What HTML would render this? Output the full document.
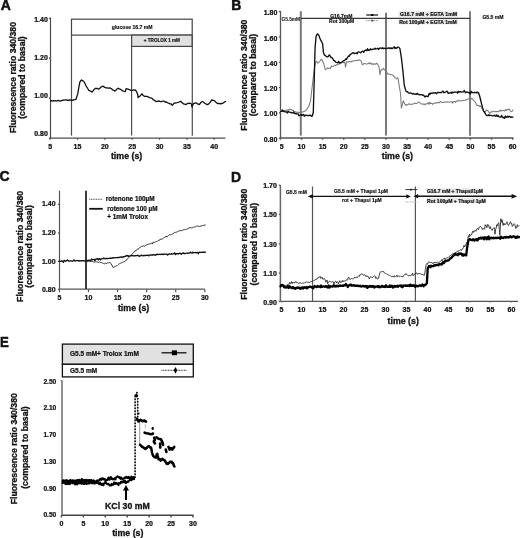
<!DOCTYPE html>
<html><head><meta charset="utf-8"><style>
html,body{margin:0;padding:0;background:#fff;width:520px;height:538px;overflow:hidden}
svg{display:block;font-family:"Liberation Sans",sans-serif;will-change:transform}
</style></head><body>
<svg width="520" height="538" viewBox="0 0 520 538">
<rect width="520" height="538" fill="#fff"/>
<text transform="translate(0.66,10.2) scale(0.93,1)" font-size="15" font-weight="bold" fill="#111" stroke="#111" stroke-width="0.51">A</text>
<text transform="translate(16.1,77.5) rotate(-90)" font-size="8.7" text-anchor="middle" font-weight="bold" fill="#111" stroke="#111" stroke-width="0.3">Fluorescence ratio 340/380</text>
<text transform="translate(25.3,77.5) rotate(-90)" font-size="8.7" text-anchor="middle" font-weight="bold" fill="#111" stroke="#111" stroke-width="0.3">(compared to basal)</text>
<line x1="50.5" y1="17.6" x2="50.5" y2="138.1" stroke="#4d4d4d" stroke-width="1.2" />
<line x1="48.9" y1="18.3" x2="50.5" y2="18.3" stroke="#4d4d4d" stroke-width="1.2" />
<line x1="48.9" y1="58.2" x2="50.5" y2="58.2" stroke="#4d4d4d" stroke-width="1.2" />
<line x1="48.9" y1="98.3" x2="50.5" y2="98.3" stroke="#4d4d4d" stroke-width="1.2" />
<line x1="48.9" y1="138.1" x2="50.5" y2="138.1" stroke="#4d4d4d" stroke-width="1.2" />
<text x="47.8" y="21.6" font-size="7.0" text-anchor="end" font-weight="bold" fill="#111" stroke="#111" stroke-width="0.24" >1.40</text>
<text x="47.8" y="59.8" font-size="7.0" text-anchor="end" font-weight="bold" fill="#111" stroke="#111" stroke-width="0.24" >1.20</text>
<text x="47.8" y="97.9" font-size="7.0" text-anchor="end" font-weight="bold" fill="#111" stroke="#111" stroke-width="0.24" >1.00</text>
<text x="47.8" y="136" font-size="7.0" text-anchor="end" font-weight="bold" fill="#111" stroke="#111" stroke-width="0.24" >0.80</text>
<line x1="50.5" y1="138.1" x2="225.4" y2="138.1" stroke="#4d4d4d" stroke-width="1.2" />
<line x1="50.2" y1="138.1" x2="50.2" y2="139.7" stroke="#4d4d4d" stroke-width="1.2" />
<line x1="77.5" y1="138.1" x2="77.5" y2="139.7" stroke="#4d4d4d" stroke-width="1.2" />
<line x1="104.85" y1="138.1" x2="104.85" y2="139.7" stroke="#4d4d4d" stroke-width="1.2" />
<line x1="132.2" y1="138.1" x2="132.2" y2="139.7" stroke="#4d4d4d" stroke-width="1.2" />
<line x1="159.55" y1="138.1" x2="159.55" y2="139.7" stroke="#4d4d4d" stroke-width="1.2" />
<line x1="186.9" y1="138.1" x2="186.9" y2="139.7" stroke="#4d4d4d" stroke-width="1.2" />
<line x1="214.25" y1="138.1" x2="214.25" y2="139.7" stroke="#4d4d4d" stroke-width="1.2" />
<text x="50.2" y="149" font-size="7.0" text-anchor="middle" font-weight="bold" fill="#111" stroke="#111" stroke-width="0.24" >5</text>
<text x="77.5" y="149" font-size="7.0" text-anchor="middle" font-weight="bold" fill="#111" stroke="#111" stroke-width="0.24" >15</text>
<text x="104.85" y="149" font-size="7.0" text-anchor="middle" font-weight="bold" fill="#111" stroke="#111" stroke-width="0.24" >20</text>
<text x="132.2" y="149" font-size="7.0" text-anchor="middle" font-weight="bold" fill="#111" stroke="#111" stroke-width="0.24" >25</text>
<text x="159.55" y="149" font-size="7.0" text-anchor="middle" font-weight="bold" fill="#111" stroke="#111" stroke-width="0.24" >30</text>
<text x="186.9" y="149" font-size="7.0" text-anchor="middle" font-weight="bold" fill="#111" stroke="#111" stroke-width="0.24" >35</text>
<text x="214.25" y="149" font-size="7.0" text-anchor="middle" font-weight="bold" fill="#111" stroke="#111" stroke-width="0.24" >40</text>
<rect x="71.5" y="19.2" width="120.7" height="15.9" fill="#fff" stroke="#444" stroke-width="1.2"/>
<rect x="131.6" y="35.1" width="60.6" height="11.3" fill="#e1e1e1" stroke="#444" stroke-width="1.2"/>
<line x1="71.5" y1="35.1" x2="71.5" y2="135.6" stroke="#4d4d4d" stroke-width="1.2" />
<line x1="192.3" y1="35.1" x2="192.3" y2="135.8" stroke="#4d4d4d" stroke-width="1.2" />
<line x1="131.6" y1="46.4" x2="131.6" y2="135.6" stroke="#4d4d4d" stroke-width="1.2" />
<text x="132.2" y="28.8" font-size="5.1" text-anchor="middle" font-weight="bold" fill="#111" stroke="#111" stroke-width="0.17" >glucose 16.7 mM</text>
<text x="161.9" y="42.2" font-size="4.6" text-anchor="middle" font-weight="bold" fill="#111" stroke="#111" stroke-width="0.16" >+ TROLOX 1 mM</text>
<polyline points="50.5,100.8 51.33,100.54 52.15,101.04 52.98,100.98 53.8,100.63 54.62,100.8 55.45,100.76 56.27,100.91 57.1,101 57.92,100.52 58.75,100.47 59.57,101.04 60.4,100.8 61.27,100.6 62.13,100.68 63,100 63.87,100.16 64.73,100.21 65.6,99.9 66.52,99.79 67.43,100.38 68.35,100.43 69.27,99.9 70.18,99.98 71.1,100.4 71.92,100.26 72.73,100.37 73.55,99.82 74.37,99.53 75.18,99.51 76,99.4 76.85,96.47 77.7,94.2 78.75,87.96 79.8,82.1 80.65,81.01 81.5,80 82.6,80.6 83.7,81.2 84.57,82.75 85.43,84.48 86.3,86.4 87.17,87.54 88.03,89.04 88.9,90.4 89.9,90.82 90.9,91.2 91.9,92.1 93,90.99 94.1,89.4 94.95,88.84 95.8,88.2 96.67,88.57 97.53,88.51 98.4,89 99.28,88.76 100.16,88.09 101.04,86.99 101.92,86.56 102.8,86.1 103.65,86.68 104.5,87.1 105.35,87.68 106.2,87.8 107.08,87.83 107.96,88.19 108.84,88.16 109.72,87.98 110.6,88.2 111.46,88.84 112.32,89.63 113.18,90.18 114.04,90.52 114.9,91.1 115.75,90.44 116.6,89.32 117.45,88.74 118.3,88.2 119.18,88.93 120.06,89.18 120.94,89.53 121.82,90.31 122.7,90.8 123.57,91.21 124.43,91.46 125.3,91.6 126.1,88.7 126.97,88.85 127.83,89.12 128.7,89.4 129.57,89.74 130.43,90.26 131.3,90.4 132.18,90.29 133.05,90.08 133.93,90.02 134.8,89.9 135.65,90.42 136.5,91.6 137.7,94.4 138.1,97.7 138.93,96.61 139.77,96.31 140.6,95.4 141.9,93.8 143.5,95.8 144.3,96.32 145.1,96.23 145.9,96.28 146.7,96.3 147.5,96.72 148.3,96.9 149.25,97.59 150.2,97.79 151.15,97.98 152.1,98.3 153.05,99.5 154,100.2 155,100.66 156,101.5 156.93,101.28 157.87,101.35 158.8,100.8 159.8,101.3 160.8,101.7 161.77,101.5 162.73,101.21 163.7,101.2 164.65,101.61 165.6,102.27 166.55,101.98 167.5,102.7 168.45,103.22 169.4,103.57 170.35,103.95 171.3,104 172.3,105.4 173.25,104.37 174.2,103 175.17,103.12 176.13,102.81 177.1,102.7 178.07,102.44 179.05,102.05 180.03,101.49 181,101.5 181.93,102.59 182.87,103.22 183.8,104 184.8,104.09 185.8,104.6 186.75,104.05 187.7,103.5 188.65,103.29 189.6,103.1 190.55,103.45 191.5,104 191.9,106.9 193.5,103.5 194.43,103.23 195.37,103.19 196.3,103 197.27,103.62 198.23,104.15 199.2,104.6 200.17,103.54 201.13,102.2 202.1,101.5 203.07,101.98 204.03,102.61 205,103.5 205.97,103.93 206.93,104.49 207.9,104.6 208.85,103.86 209.8,102.7 210.75,101.46 211.7,99.8 212.67,100.35 213.63,100.3 214.6,100.8 215.57,101.94 216.53,102.72 217.5,103.5 218.47,103.37 219.43,103.5 220.4,104 221.37,103.33 222.33,103.51 223.3,103 224.45,102.07 225.6,101.5" fill="none" stroke="#111" stroke-width="1.3" stroke-linejoin="round" stroke-linecap="round" />
<text transform="translate(231.3,10.3) scale(0.93,1)" font-size="15" font-weight="bold" fill="#111" stroke="#111" stroke-width="0.51">B</text>
<text transform="translate(247.3,75.1) rotate(-90)" font-size="8.7" text-anchor="middle" font-weight="bold" fill="#111" stroke="#111" stroke-width="0.3">Fluorescence ratio 340/380</text>
<text transform="translate(256.3,75) rotate(-90)" font-size="8.7" text-anchor="middle" font-weight="bold" fill="#111" stroke="#111" stroke-width="0.3">(compared to basal)</text>
<line x1="280.5" y1="11" x2="280.5" y2="138.2" stroke="#555" stroke-width="1.3" />
<line x1="278.9" y1="11.55" x2="280.5" y2="11.55" stroke="#555" stroke-width="1.3" />
<line x1="278.9" y1="36.88" x2="280.5" y2="36.88" stroke="#555" stroke-width="1.3" />
<line x1="278.9" y1="62.21" x2="280.5" y2="62.21" stroke="#555" stroke-width="1.3" />
<line x1="278.9" y1="87.54" x2="280.5" y2="87.54" stroke="#555" stroke-width="1.3" />
<line x1="278.9" y1="112.87" x2="280.5" y2="112.87" stroke="#555" stroke-width="1.3" />
<line x1="278.9" y1="138.2" x2="280.5" y2="138.2" stroke="#555" stroke-width="1.3" />
<text x="277.3" y="15.05" font-size="7.0" text-anchor="end" font-weight="bold" fill="#111" stroke="#111" stroke-width="0.24" >1.80</text>
<text x="277.3" y="40.95" font-size="7.0" text-anchor="end" font-weight="bold" fill="#111" stroke="#111" stroke-width="0.24" >1.60</text>
<text x="277.3" y="66.05" font-size="7.0" text-anchor="end" font-weight="bold" fill="#111" stroke="#111" stroke-width="0.24" >1.40</text>
<text x="277.3" y="91.15" font-size="7.0" text-anchor="end" font-weight="bold" fill="#111" stroke="#111" stroke-width="0.24" >1.20</text>
<text x="277.3" y="116.45" font-size="7.0" text-anchor="end" font-weight="bold" fill="#111" stroke="#111" stroke-width="0.24" >1.00</text>
<text x="277.3" y="141.55" font-size="7.0" text-anchor="end" font-weight="bold" fill="#111" stroke="#111" stroke-width="0.24" >0.80</text>
<line x1="280.5" y1="138.1" x2="513.5" y2="138.1" stroke="#555" stroke-width="1.5" />
<line x1="280.5" y1="138.1" x2="280.5" y2="139.7" stroke="#555" stroke-width="1.5" />
<line x1="301.51" y1="138.1" x2="301.51" y2="139.7" stroke="#555" stroke-width="1.5" />
<line x1="322.62" y1="138.1" x2="322.62" y2="139.7" stroke="#555" stroke-width="1.5" />
<line x1="343.73" y1="138.1" x2="343.73" y2="139.7" stroke="#555" stroke-width="1.5" />
<line x1="364.84" y1="138.1" x2="364.84" y2="139.7" stroke="#555" stroke-width="1.5" />
<line x1="385.95" y1="138.1" x2="385.95" y2="139.7" stroke="#555" stroke-width="1.5" />
<line x1="407.06" y1="138.1" x2="407.06" y2="139.7" stroke="#555" stroke-width="1.5" />
<line x1="428.17" y1="138.1" x2="428.17" y2="139.7" stroke="#555" stroke-width="1.5" />
<line x1="449.28" y1="138.1" x2="449.28" y2="139.7" stroke="#555" stroke-width="1.5" />
<line x1="470.39" y1="138.1" x2="470.39" y2="139.7" stroke="#555" stroke-width="1.5" />
<line x1="491.5" y1="138.1" x2="491.5" y2="139.7" stroke="#555" stroke-width="1.5" />
<line x1="512.61" y1="138.1" x2="512.61" y2="139.7" stroke="#555" stroke-width="1.5" />
<text x="281.8" y="148.9" font-size="7.0" text-anchor="middle" font-weight="bold" fill="#111" stroke="#111" stroke-width="0.24" >5</text>
<text x="301.51" y="148.9" font-size="7.0" text-anchor="middle" font-weight="bold" fill="#111" stroke="#111" stroke-width="0.24" >10</text>
<text x="322.62" y="148.9" font-size="7.0" text-anchor="middle" font-weight="bold" fill="#111" stroke="#111" stroke-width="0.24" >15</text>
<text x="343.73" y="148.9" font-size="7.0" text-anchor="middle" font-weight="bold" fill="#111" stroke="#111" stroke-width="0.24" >20</text>
<text x="364.84" y="148.9" font-size="7.0" text-anchor="middle" font-weight="bold" fill="#111" stroke="#111" stroke-width="0.24" >25</text>
<text x="385.95" y="148.9" font-size="7.0" text-anchor="middle" font-weight="bold" fill="#111" stroke="#111" stroke-width="0.24" >30</text>
<text x="407.06" y="148.9" font-size="7.0" text-anchor="middle" font-weight="bold" fill="#111" stroke="#111" stroke-width="0.24" >35</text>
<text x="428.17" y="148.9" font-size="7.0" text-anchor="middle" font-weight="bold" fill="#111" stroke="#111" stroke-width="0.24" >40</text>
<text x="449.28" y="148.9" font-size="7.0" text-anchor="middle" font-weight="bold" fill="#111" stroke="#111" stroke-width="0.24" >45</text>
<text x="470.39" y="148.9" font-size="7.0" text-anchor="middle" font-weight="bold" fill="#111" stroke="#111" stroke-width="0.24" >50</text>
<text x="491.5" y="148.9" font-size="7.0" text-anchor="middle" font-weight="bold" fill="#111" stroke="#111" stroke-width="0.24" >55</text>
<text x="512.61" y="148.9" font-size="7.0" text-anchor="middle" font-weight="bold" fill="#111" stroke="#111" stroke-width="0.24" >60</text>
<line x1="300.8" y1="11.2" x2="300.8" y2="135.6" stroke="#777" stroke-width="2.0" />
<line x1="386" y1="12.8" x2="386" y2="135.6" stroke="#7a7a7a" stroke-width="2.0" />
<line x1="470" y1="11.2" x2="470" y2="135.8" stroke="#7d7d7d" stroke-width="2.0" />
<line x1="300.8" y1="18.4" x2="470" y2="18.4" stroke="#3a3a3a" stroke-width="1.3" />
<text x="290.8" y="21.1" font-size="4.8" text-anchor="middle" font-weight="bold" fill="#111" stroke="#111" stroke-width="0.05" >G5.5mM</text>
<text x="341.3" y="17.6" font-size="5.0" text-anchor="middle" font-weight="bold" fill="#111" stroke="#111" stroke-width="0.17" >G16.7mM</text>
<text x="341.6" y="23.3" font-size="5.0" text-anchor="middle" font-weight="bold" fill="#111" stroke="#111" stroke-width="0.17" >Rot 100µM</text>
<line x1="366.2" y1="15" x2="378.1" y2="15" stroke="#111" stroke-width="1.2" />
<rect x="371" y="14" width="2.4" height="2" fill="#111"/>
<line x1="366.2" y1="20.6" x2="378.1" y2="20.6" stroke="#888" stroke-width="1.0" stroke-dasharray="1,0.6"/>
<rect x="371" y="19.8" width="2.4" height="1.6" fill="#555"/>
<rect x="398.5" y="11.4" width="59.5" height="5.4" fill="#e6e6e6"/>
<rect x="398.5" y="19.2" width="59.5" height="5.2" fill="#e6e6e6"/>
<text x="428.5" y="15.6" font-size="5.15" text-anchor="middle" font-weight="bold" fill="#111" stroke="#111" stroke-width="0.18" >G16.7 mM + EGTA 1mM</text>
<text x="427.9" y="23.5" font-size="5.05" text-anchor="middle" font-weight="bold" fill="#111" stroke="#111" stroke-width="0.17" >Rot 100µM + EGTA 1mM</text>
<text x="493" y="18.9" font-size="5.1" text-anchor="middle" font-weight="bold" fill="#111" stroke="#111" stroke-width="0.17" >G5.5 mM</text>
<polyline points="280.8,110.8 281.53,111.03 282.26,109.26 282.99,110.64 283.71,110.5 284.44,111.38 285.17,110.46 285.9,110.16 286.63,110.36 287.36,110.25 288.09,109.78 288.81,110.06 289.54,109.21 290.27,109.26 291,109.5 291.7,109.6 292.4,110.55 293.1,110.33 293.8,111.11 294.5,111.53 295.2,111.8 295.9,112.29 296.6,112.3 297.37,112.06 298.13,112.45 298.9,112.32 299.67,112.6 300.43,112.53 301.2,112.3 301.97,112.32 302.73,111.77 303.5,111.84 304.27,111.29 305.03,110.93 305.8,110.8 306.5,109.54 307.2,108.59 307.9,107.59 308.6,106.7 309.55,104.04 310.5,101.1 311.8,90 312.55,83.51 313.3,77 314.05,71.46 314.8,65.8 316.1,61.2 317,61.95 317.9,63.1 318.85,62.45 319.8,61.2 320.7,59.95 321.6,59.3 322.55,61.36 323.5,63.1 324.4,66.13 325.3,69.6 326,69.04 326.7,68.94 327.4,68 328.1,68.6 328.9,68.08 329.7,68.18 330.5,68.54 331.3,65.88 332.1,66.55 332.9,66.21 333.7,66.2 334.4,65.23 335.1,65.3 335.8,65.58 336.5,64.66 337.2,64.82 337.9,64.59 338.6,63.96 339.3,64 340.07,63.65 340.84,63.19 341.61,62.86 342.39,62.18 343.16,62.77 343.93,62.17 344.7,62 345.6,67.2 346.4,62 347.12,61.79 347.85,62.13 348.57,61.84 349.3,61.6 350.1,61.59 350.9,62.07 351.7,61.22 352.5,61.39 353.3,60.77 354.1,60.65 354.9,60.7 355.64,60.67 356.38,60.61 357.12,60.29 357.86,60.57 358.6,60.1 359.53,59.85 360.47,60.68 361.4,61.3 362.3,65 363.25,64.05 364.2,63.5 364.9,63.53 365.6,63.7 366.3,63.93 367,63.86 367.7,63.76 368.4,63.49 369.1,62.87 369.8,63.9 370.54,62.88 371.28,63.67 372.02,64.35 372.76,63.6 373.5,64.46 374.24,63.76 374.98,63.89 375.72,64.39 376.46,63.24 377.2,63.5 378.15,65.13 379.1,67.2 380,74.7 380.9,70 381.68,69.77 382.47,69.88 383.25,68.32 384.03,69.28 384.82,70.11 385.6,69.1 386.5,71.56 387.4,73.7 388.18,73.77 388.97,74.24 389.75,74.22 390.53,74.68 391.32,74.84 392.1,74.7 392.84,75.22 393.58,76.01 394.32,76.63 395.06,77.63 395.8,78 396.53,78.93 397.27,78.03 398,78 399.2,85.8 400.5,93.3 401.4,108.1 402.35,104.68 403.3,100.7 404.2,102.84 405.1,104.4 405.9,105.45 406.7,104.55 407.5,104.95 408.3,104.43 409.1,103.55 409.9,104.23 410.7,104.4 411.4,104.26 412.1,104.11 412.8,104.26 413.5,103.7 414.2,103.51 414.9,103.1 415.6,103.55 416.3,103.5 417.2,103.27 418.1,102.41 419,101.9 419.7,102.45 420.4,103.34 421.1,103.9 421.82,104.1 422.54,103.9 423.26,103.89 423.99,104.74 424.71,103.97 425.43,104.58 426.15,103.76 426.87,103.84 427.59,103.23 428.31,102.76 429.04,104.4 429.76,102.21 430.48,103.52 431.2,103.3 431.92,103.51 432.64,104.43 433.36,103.38 434.09,103.28 434.81,103.28 435.53,102.76 436.25,103.11 436.97,102.56 437.69,102.89 438.41,102.27 439.14,102.86 439.86,102.2 440.58,101.43 441.3,102.3 442.01,102.19 442.73,102.5 443.44,102.32 444.16,102.21 444.87,101.86 445.59,101.99 446.3,102.31 447.01,102 447.73,101.76 448.44,101.94 449.16,102.23 449.87,102.05 450.59,101.74 451.3,101.9 452.02,101.63 452.74,103.16 453.46,101.44 454.19,101.44 454.91,101.47 455.63,102.55 456.35,101.1 457.07,100.98 457.79,101.11 458.51,100.21 459.24,100.77 459.96,100.96 460.68,101.01 461.4,100.7 462.16,100.79 462.92,100.35 463.69,100.49 464.45,100.18 465.21,100.13 465.98,99.99 466.74,99.56 467.5,99.3 468.3,99.01 469.1,98.67 469.9,98.6 470.7,99.45 471.5,98.3 472.2,98.64 472.9,99.53 473.6,100.3 474.6,101.57 475.6,102.3 476.6,105.3 477.4,105.38 478.2,105.36 479,105.58 479.8,106.6 480.6,105.9 481.6,107.65 482.6,109.4 483.65,111.1 484.7,112.4 485.45,111.65 486.2,110.08 486.95,110.58 487.7,110.4 488.7,112 489.7,113.4 490.45,112.3 491.2,111.79 491.95,112.09 492.7,111.4 493.43,111.33 494.16,111.32 494.89,111.48 495.61,111.64 496.34,111.46 497.07,111.74 497.8,111.4 498.56,111.51 499.32,111.09 500.09,110.04 500.85,111.19 501.61,110.55 502.38,110.62 503.14,110.35 503.9,110.4 504.7,111.01 505.5,109.71 506.3,110.65 507.1,109.59 507.9,109.4 508.65,109.65 509.4,109 510.15,110.92 510.9,111.4 511.9,111.56 512.9,110" fill="none" stroke="#7a7a7a" stroke-width="1.05" stroke-linejoin="round" stroke-linecap="round" />
<polyline points="280.8,111.3 281.57,111.24 282.33,111.42 283.1,110.43 283.87,111.68 284.63,111.62 285.4,111.9 286.1,111.97 286.8,111.94 287.5,113.02 288.2,111.36 288.9,111.87 289.6,112.18 290.3,112.48 291,112.3 291.7,112.73 292.4,112.83 293.1,113.09 293.8,111.94 294.5,113.28 295.2,113.56 295.9,113.73 296.6,113.7 297.37,113.85 298.13,113.81 298.9,115.64 299.67,115.61 300.43,114.61 301.2,114.5 301.97,115.65 302.73,114.6 303.5,114.43 304.27,116.24 305.03,115.14 305.8,115.6 306.56,115.25 307.32,115.34 308.08,115.65 308.84,115.58 309.6,115.2 310.5,115.21 311.4,116.29 312.3,116 313.3,112.3 314.2,80.7 315.1,47.3 316.1,36.1 317.4,33.9 318.1,34.41 318.8,35.2 319.8,38 320.7,40.14 321.6,41.7 322.6,43.6 323.5,52.8 324.4,55.01 325.3,55.6 326.25,56.47 327.2,56.9 327.9,56.8 328.6,56.01 329.3,54.85 330,55.6 330.9,57.52 331.8,57.5 332.75,58.61 333.7,60.3 334.65,60.56 335.6,62.1 336.34,62.38 337.08,62.61 337.82,62.82 338.56,61.34 339.3,63.1 340.2,62.62 341.1,62.49 342,62.1 342.85,61.32 343.7,60.7 344.4,60.3 345.1,59.93 345.8,59.04 346.5,59.4 347.45,57.53 348.4,56 349.1,56.37 349.8,54.66 350.5,54.62 351.2,53.8 351.94,53.53 352.68,52.65 353.42,52.8 354.16,53.67 354.9,53.3 355.64,53.24 356.38,53 357.12,53.75 357.86,52.21 358.6,52 359.34,52.09 360.08,52.51 360.82,52.85 361.56,51.75 362.3,51.4 363.04,51.1 363.78,52.33 364.52,50.72 365.26,50.23 366,50.1 366.76,50.66 367.52,48.71 368.28,50.34 369.04,49.81 369.8,50.1 370.54,48.73 371.28,49.69 372.02,49.63 372.76,49.23 373.5,49.2 374.24,49.07 374.98,48.11 375.72,49.02 376.46,48.9 377.2,48.6 377.94,48.22 378.68,49.47 379.42,48.43 380.16,48.01 380.9,48.2 381.68,48.46 382.47,47.8 383.25,48.68 384.03,48.22 384.82,48.42 385.6,48.6 386.37,48.41 387.13,48.45 387.9,48.11 388.67,47.97 389.43,48.23 390.2,48 390.9,48.66 391.6,48.02 392.3,48.65 393,47.93 393.7,47.7 394.4,46.73 395.1,48.65 395.8,47.7 396.5,48.22 397.2,47.64 397.9,47.11 398.6,47.1 399.9,48.6 400.65,53.02 401.4,57.9 402.15,64.5 402.9,70.9 404.2,84.8 405.1,88.23 406,91.3 406.76,91.8 407.52,91.78 408.28,92.76 409.04,93.26 409.8,93.1 410.57,92.98 411.33,93.21 412.1,93.7 412.87,94.04 413.63,93.39 414.4,94.1 415.14,94.3 415.89,93.95 416.63,94.31 417.38,93.22 418.12,94.5 418.87,94.29 419.61,94.75 420.36,94.82 421.1,94.6 421.81,94.64 422.53,95.21 423.24,95.15 423.96,95.45 424.67,96.94 425.39,96.84 426.1,96 427.1,96.31 428.1,96.6 429.1,93.4 429.86,94.57 430.62,92.99 431.39,93.36 432.15,93.02 432.91,93 433.68,92.86 434.44,92.99 435.2,92.6 435.92,93.24 436.64,93.74 437.36,92.3 438.09,92.47 438.81,92.44 439.53,92.62 440.25,92.39 440.97,92.59 441.69,92.48 442.41,91.22 443.14,91.25 443.86,92.84 444.58,92.3 445.3,92.2 446.02,91.92 446.74,91.08 447.46,91.52 448.19,93.48 448.91,93.17 449.63,93.03 450.35,92.93 451.07,92.16 451.79,93.31 452.51,92.12 453.24,92.3 453.96,92.47 454.68,91.96 455.4,92.2 456.14,92.07 456.87,92.14 457.61,93.19 458.35,91.33 459.08,92.25 459.82,91.76 460.55,91.73 461.29,92.04 462.03,91.91 462.76,91.81 463.5,91.8 464.25,90.57 465,92.03 465.75,92.7 466.5,91.98 467.25,92.16 468,92.41 468.75,92.77 469.5,92.6 470.26,93.99 471.02,91.27 471.79,92.64 472.55,92.37 473.31,92.64 474.08,92.53 474.84,92.38 475.6,92.6 476.35,92.92 477.1,92.05 477.85,92.75 478.6,93 479.6,96 480.6,99.77 481.6,104.1 482.65,107.88 483.7,111.2 484.45,112.23 485.2,113.45 485.95,114.79 486.7,115.6 487.41,115.48 488.13,115.59 488.84,114.77 489.56,115.61 490.27,115.42 490.99,115.32 491.7,115.6 492.52,115.81 493.34,115.88 494.16,115.14 494.98,115.81 495.8,116.2 496.54,114.88 497.27,116.28 498.01,115.47 498.75,116.71 499.48,116.84 500.22,116.96 500.95,116.99 501.69,115.49 502.43,117.14 503.16,117.88 503.9,117.2 504.65,118.34 505.4,116.02 506.15,117.12 506.9,117.22 507.65,116.22 508.4,117.12 509.15,116.46 509.9,116.4 510.65,117.27 511.4,117.01 512.15,117.14 512.9,117.2" fill="none" stroke="#111" stroke-width="1.35" stroke-linejoin="round" stroke-linecap="round" />
<text transform="translate(-0.5,181.35) scale(0.93,1)" font-size="15" font-weight="bold" fill="#111" stroke="#111" stroke-width="0.51">C</text>
<text transform="translate(22.5,246.4) rotate(-90)" font-size="8.7" text-anchor="middle" font-weight="bold" fill="#111" stroke="#111" stroke-width="0.3">Fluorescence ratio 340/380</text>
<text transform="translate(32.1,246.4) rotate(-90)" font-size="8.7" text-anchor="middle" font-weight="bold" fill="#111" stroke="#111" stroke-width="0.3">(compared to basal)</text>
<line x1="59.5" y1="190.6" x2="59.5" y2="289.3" stroke="#555" stroke-width="1.2" />
<line x1="57.9" y1="204.4" x2="59.5" y2="204.4" stroke="#555" stroke-width="1.2" />
<line x1="57.9" y1="233" x2="59.5" y2="233" stroke="#555" stroke-width="1.2" />
<line x1="57.9" y1="261.4" x2="59.5" y2="261.4" stroke="#555" stroke-width="1.2" />
<line x1="57.9" y1="289.3" x2="59.5" y2="289.3" stroke="#555" stroke-width="1.2" />
<text x="55.6" y="206.25" font-size="7.0" text-anchor="end" font-weight="bold" fill="#111" stroke="#111" stroke-width="0.24" >1.40</text>
<text x="55.6" y="234.75" font-size="7.0" text-anchor="end" font-weight="bold" fill="#111" stroke="#111" stroke-width="0.24" >1.20</text>
<text x="55.6" y="263.55" font-size="7.0" text-anchor="end" font-weight="bold" fill="#111" stroke="#111" stroke-width="0.24" >1.00</text>
<text x="55.6" y="292.25" font-size="7.0" text-anchor="end" font-weight="bold" fill="#111" stroke="#111" stroke-width="0.24" >0.80</text>
<line x1="59.5" y1="289.2" x2="204.8" y2="289.2" stroke="#555" stroke-width="1.2" />
<line x1="59.4" y1="289.2" x2="59.4" y2="292.2" stroke="#555" stroke-width="1.2" />
<line x1="88.48" y1="289.2" x2="88.48" y2="292.2" stroke="#555" stroke-width="1.2" />
<line x1="117.56" y1="289.2" x2="117.56" y2="292.2" stroke="#555" stroke-width="1.2" />
<line x1="146.64" y1="289.2" x2="146.64" y2="292.2" stroke="#555" stroke-width="1.2" />
<line x1="175.72" y1="289.2" x2="175.72" y2="292.2" stroke="#555" stroke-width="1.2" />
<line x1="204.8" y1="289.2" x2="204.8" y2="292.2" stroke="#555" stroke-width="1.2" />
<text x="59.4" y="300.3" font-size="7.0" text-anchor="middle" font-weight="bold" fill="#111" stroke="#111" stroke-width="0.24" >5</text>
<text x="88.48" y="300.3" font-size="7.0" text-anchor="middle" font-weight="bold" fill="#111" stroke="#111" stroke-width="0.24" >10</text>
<text x="117.56" y="300.3" font-size="7.0" text-anchor="middle" font-weight="bold" fill="#111" stroke="#111" stroke-width="0.24" >15</text>
<text x="146.64" y="300.3" font-size="7.0" text-anchor="middle" font-weight="bold" fill="#111" stroke="#111" stroke-width="0.24" >20</text>
<text x="175.72" y="300.3" font-size="7.0" text-anchor="middle" font-weight="bold" fill="#111" stroke="#111" stroke-width="0.24" >25</text>
<text x="204.8" y="300.3" font-size="7.0" text-anchor="middle" font-weight="bold" fill="#111" stroke="#111" stroke-width="0.24" >30</text>
<line x1="86" y1="190.8" x2="86" y2="289.2" stroke="#3c3c3c" stroke-width="2.0" />
<line x1="89.3" y1="199.3" x2="102.7" y2="199.3" stroke="#444" stroke-width="1.1" stroke-dasharray="1,0.7"/>
<line x1="89.3" y1="208.8" x2="102.7" y2="208.8" stroke="#111" stroke-width="1.8" />
<text x="105.8" y="201.2" font-size="6.4" text-anchor="start" font-weight="bold" fill="#111" stroke="#111" stroke-width="0.22" >rotenone 100µM</text>
<text x="107.3" y="211.2" font-size="6.35" text-anchor="start" font-weight="bold" fill="#111" stroke="#111" stroke-width="0.22" >rotenone 100 µM</text>
<text x="107.3" y="219.4" font-size="6.35" text-anchor="start" font-weight="bold" fill="#111" stroke="#111" stroke-width="0.22" >+ 1mM Trolox</text>
<polyline points="85.8,260.8 86.57,261.5 87.33,261.69 88.1,261.31 88.87,261.29 89.63,260.22 90.4,261.5 91.16,261.27 91.93,261.46 92.69,261.45 93.45,261.92 94.21,261.96 94.97,262.01 95.74,261.78 96.5,261.9 97.28,261.83 98.07,262.33 98.85,262.42 99.63,261.94 100.42,262.44 101.2,262.4 101.95,262.93 102.7,263.1 103.45,263.5 104.2,263.9 104.97,263.53 105.75,263.2 106.53,263.52 107.3,263 108.08,263.01 108.85,262.64 109.62,262.51 110.4,262.7 111.15,263.93 111.9,265 113.2,267.6 114.03,266.96 114.85,266.75 115.67,266.07 116.5,265.8 117.28,265.54 118.07,264.73 118.85,263.97 119.63,263.65 120.42,263.22 121.2,263 121.96,262.55 122.72,262.26 123.48,261.93 124.24,261.81 125,261.4 125.74,260.88 126.49,259.66 127.23,259.41 127.97,258.28 128.71,257.48 129.46,256.86 130.2,256.2 130.94,255.3 131.69,254.87 132.43,253.72 133.17,252.67 133.91,251.93 134.66,251.9 135.4,250.5 136.14,250.78 136.89,249.45 137.63,248.99 138.37,249.17 139.11,248.09 139.86,247.33 140.6,247 141.37,246.43 142.13,246.44 142.9,246.08 143.67,245.74 144.43,246.43 145.2,245.36 145.97,245.65 146.73,244.52 147.5,244.4 148.22,244.42 148.93,243.87 149.65,243.93 150.37,243.72 151.08,243.41 151.8,242.96 152.52,244.14 153.23,241.88 153.95,242.31 154.67,242.46 155.38,242 156.1,241.8 156.8,241.4 157.5,241.3 158.2,240.57 158.9,240.29 159.6,240.26 160.3,239.01 161,239.48 161.7,239.12 162.4,238.99 163.1,238.4 163.87,237.76 164.63,237.39 165.4,237.09 166.17,235.92 166.93,237.05 167.7,236.24 168.47,235.52 169.23,234.61 170,234.9 170.77,234.76 171.53,234.56 172.3,234.06 173.07,233.69 173.83,233.37 174.6,232.27 175.37,232.44 176.13,232.22 176.9,232 177.67,231.6 178.43,231.19 179.2,230.58 179.97,231.11 180.73,230.47 181.5,230.68 182.27,230.37 183.03,230.03 183.8,229.7 184.57,229.58 185.33,229.57 186.1,229.38 186.87,229.16 187.63,228.82 188.4,228.35 189.17,228.3 189.93,227.13 190.7,228 191.4,227.89 192.1,227.9 192.8,227.64 193.5,226.85 194.2,227.02 194.9,227.15 195.6,226.75 196.3,226.31 197,225.78 197.7,226.2 198.4,226.09 199.1,226.24 199.8,226.99 200.5,225.91 201.2,225.85 201.9,225.8 202.6,225.5 203.3,225.45 204,225.06 204.7,225.19 205.4,225" fill="none" stroke="#333" stroke-width="1.0" stroke-linejoin="round" stroke-linecap="round" />
<polyline points="59.2,261.2 59.9,261.25 60.6,261.33 61.3,261.27 62,260.82 62.7,261.34 63.4,262.22 64.1,260.45 64.8,260.83 65.5,261.22 66.2,260.75 66.9,260.71 67.6,260.07 68.3,260.7 69,261.07 69.7,261.1 70.4,260.8 71.13,260.91 71.87,261.06 72.6,261.08 73.33,260.68 74.07,259.93 74.8,260.99 75.53,260.86 76.27,260.54 77,260.68 77.73,260.61 78.47,260.61 79.2,261.06 79.93,260.71 80.67,260.83 81.4,260.73 82.13,260.77 82.87,260.87 83.6,260.57 84.33,260.99 85.07,260.81 85.8,260.8 86.5,260.54 87.2,260.64 87.9,260.39 88.6,260.32 89.3,260.08 90,261.03 90.7,260.06 91.4,259 92.1,259.95 92.8,259.7 93.5,259.6 94.2,259.28 94.9,260.62 95.6,259.36 96.3,259.04 97,258.96 97.7,258.55 98.4,259.95 99.1,258.75 99.8,258.73 100.5,259.93 101.2,258.8 101.96,258.87 102.72,258.58 103.48,258.11 104.24,258.64 105,258.35 105.76,258.73 106.52,258.44 107.28,258.64 108.04,258.54 108.8,258.4 109.5,258.25 110.2,258.12 110.9,258.34 111.6,257.99 112.3,258.13 113,257.67 113.7,257.74 114.4,257.8 115.1,257.83 115.8,257.58 116.5,257.6 117.2,257.65 117.9,257.33 118.6,257.55 119.3,257.52 120,257.16 120.7,256.85 121.4,257.23 122.1,256.99 122.8,257.57 123.5,256.72 124.2,256.6 124.9,256.38 125.6,256.25 126.3,255.61 127,256 127.7,255.47 128.4,256.39 129.1,256.06 129.8,255.86 130.5,255.61 131.2,255.91 131.9,255.7 132.64,255.6 133.39,255.9 134.13,255.79 134.87,255.95 135.61,255.55 136.36,255.66 137.1,255.53 137.84,255.42 138.59,255.67 139.33,256.39 140.07,255.9 140.81,255.68 141.56,255.18 142.3,255.6 143.03,255.81 143.75,255.41 144.48,255.51 145.2,255.72 145.93,255.38 146.65,255.28 147.38,255.1 148.1,255.41 148.82,255.82 149.55,255.06 150.28,254.91 151,255.1 151.72,255.01 152.43,255.15 153.15,254.63 153.87,254.73 154.58,254.98 155.3,255.26 156.02,254.76 156.73,254.72 157.45,254.07 158.17,254.54 158.88,254.34 159.6,254.4 160.32,254.35 161.05,254.5 161.78,254.05 162.5,254.27 163.22,254.51 163.95,253.96 164.68,254.18 165.4,254.32 166.12,254.16 166.85,254.08 167.58,255.07 168.3,254.1 169.02,254.23 169.73,253.75 170.45,254.07 171.17,253.98 171.88,253.77 172.6,254.18 173.32,253.95 174.03,253.29 174.75,252.96 175.47,254.66 176.18,253.55 176.9,253.8 177.62,253.6 178.35,254 179.07,253.48 179.8,253.21 180.53,253.43 181.25,254.2 181.97,253.43 182.7,253.3 183.43,252.92 184.15,253.53 184.88,253.7 185.6,253.4 186.32,253.08 187.03,253.07 187.75,253.23 188.47,253.2 189.18,252.97 189.9,252.9 190.62,252.07 191.33,252.91 192.05,253.2 192.77,252.16 193.48,252.73 194.2,252.7 194.9,252.65 195.6,252.4 196.3,252.63 197,252.78 197.7,252.5 198.4,253.57 199.1,252.27 199.8,252.36 200.5,252.32 201.2,252.3 201.9,252.14 202.6,252.41 203.3,252.25 204,252.27 204.7,252.28 205.4,252.2" fill="none" stroke="#111" stroke-width="1.35" stroke-linejoin="round" stroke-linecap="round" />
<text transform="translate(231.1,181.7) scale(0.93,1)" font-size="15" font-weight="bold" fill="#111" stroke="#111" stroke-width="0.51">D</text>
<text transform="translate(247.4,244.3) rotate(-90)" font-size="8.7" text-anchor="middle" font-weight="bold" fill="#111" stroke="#111" stroke-width="0.3">Fluorescence ratio 340/380</text>
<text transform="translate(256.7,244.1) rotate(-90)" font-size="8.7" text-anchor="middle" font-weight="bold" fill="#111" stroke="#111" stroke-width="0.3">(compared to basal)</text>
<line x1="280.4" y1="185" x2="280.4" y2="301.4" stroke="#666" stroke-width="1.5" />
<line x1="278.8" y1="185.3" x2="280.4" y2="185.3" stroke="#666" stroke-width="1.5" />
<line x1="278.8" y1="214.4" x2="280.4" y2="214.4" stroke="#666" stroke-width="1.5" />
<line x1="278.8" y1="243.8" x2="280.4" y2="243.8" stroke="#666" stroke-width="1.5" />
<line x1="278.8" y1="273" x2="280.4" y2="273" stroke="#666" stroke-width="1.5" />
<line x1="278.8" y1="301.4" x2="280.4" y2="301.4" stroke="#666" stroke-width="1.5" />
<text x="276.9" y="188.35" font-size="7.0" text-anchor="end" font-weight="bold" fill="#111" stroke="#111" stroke-width="0.24" >1.70</text>
<text x="276.9" y="217.45" font-size="7.0" text-anchor="end" font-weight="bold" fill="#111" stroke="#111" stroke-width="0.24" >1.50</text>
<text x="276.9" y="246.85" font-size="7.0" text-anchor="end" font-weight="bold" fill="#111" stroke="#111" stroke-width="0.24" >1.30</text>
<text x="276.9" y="276.25" font-size="7.0" text-anchor="end" font-weight="bold" fill="#111" stroke="#111" stroke-width="0.24" >1.10</text>
<text x="276.9" y="305.45" font-size="7.0" text-anchor="end" font-weight="bold" fill="#111" stroke="#111" stroke-width="0.24" >0.90</text>
<line x1="280.4" y1="301.4" x2="518" y2="301.4" stroke="#555" stroke-width="1.3" />
<line x1="281.5" y1="301.4" x2="281.5" y2="302.4" stroke="#555" stroke-width="1.3" />
<line x1="301.4" y1="301.4" x2="301.4" y2="302.4" stroke="#555" stroke-width="1.3" />
<line x1="322.4" y1="301.4" x2="322.4" y2="302.4" stroke="#555" stroke-width="1.3" />
<line x1="343.4" y1="301.4" x2="343.4" y2="302.4" stroke="#555" stroke-width="1.3" />
<line x1="364.4" y1="301.4" x2="364.4" y2="302.4" stroke="#555" stroke-width="1.3" />
<line x1="385.4" y1="301.4" x2="385.4" y2="302.4" stroke="#555" stroke-width="1.3" />
<line x1="406.4" y1="301.4" x2="406.4" y2="302.4" stroke="#555" stroke-width="1.3" />
<line x1="427.4" y1="301.4" x2="427.4" y2="302.4" stroke="#555" stroke-width="1.3" />
<line x1="448.4" y1="301.4" x2="448.4" y2="302.4" stroke="#555" stroke-width="1.3" />
<line x1="469.4" y1="301.4" x2="469.4" y2="302.4" stroke="#555" stroke-width="1.3" />
<line x1="490.4" y1="301.4" x2="490.4" y2="302.4" stroke="#555" stroke-width="1.3" />
<line x1="511.4" y1="301.4" x2="511.4" y2="302.4" stroke="#555" stroke-width="1.3" />
<text x="281.5" y="312.4" font-size="7.0" text-anchor="middle" font-weight="bold" fill="#111" stroke="#111" stroke-width="0.24" >5</text>
<text x="301.4" y="312.4" font-size="7.0" text-anchor="middle" font-weight="bold" fill="#111" stroke="#111" stroke-width="0.24" >10</text>
<text x="322.4" y="312.4" font-size="7.0" text-anchor="middle" font-weight="bold" fill="#111" stroke="#111" stroke-width="0.24" >15</text>
<text x="343.4" y="312.4" font-size="7.0" text-anchor="middle" font-weight="bold" fill="#111" stroke="#111" stroke-width="0.24" >20</text>
<text x="364.4" y="312.4" font-size="7.0" text-anchor="middle" font-weight="bold" fill="#111" stroke="#111" stroke-width="0.24" >25</text>
<text x="385.4" y="312.4" font-size="7.0" text-anchor="middle" font-weight="bold" fill="#111" stroke="#111" stroke-width="0.24" >30</text>
<text x="406.4" y="312.4" font-size="7.0" text-anchor="middle" font-weight="bold" fill="#111" stroke="#111" stroke-width="0.24" >35</text>
<text x="427.4" y="312.4" font-size="7.0" text-anchor="middle" font-weight="bold" fill="#111" stroke="#111" stroke-width="0.24" >40</text>
<text x="448.4" y="312.4" font-size="7.0" text-anchor="middle" font-weight="bold" fill="#111" stroke="#111" stroke-width="0.24" >45</text>
<text x="469.4" y="312.4" font-size="7.0" text-anchor="middle" font-weight="bold" fill="#111" stroke="#111" stroke-width="0.24" >50</text>
<text x="490.4" y="312.4" font-size="7.0" text-anchor="middle" font-weight="bold" fill="#111" stroke="#111" stroke-width="0.24" >55</text>
<text x="511.4" y="312.4" font-size="7.0" text-anchor="middle" font-weight="bold" fill="#111" stroke="#111" stroke-width="0.24" >60</text>
<line x1="312.5" y1="186.5" x2="312.5" y2="301.4" stroke="#555" stroke-width="1.2" />
<line x1="415.4" y1="186.5" x2="415.4" y2="301.4" stroke="#555" stroke-width="1.2" />
<line x1="310" y1="196.4" x2="408" y2="196.4" stroke="#111" stroke-width="1.1" />
<polygon points="307.7,196.4 312.8,194.2 312.8,198.6" fill="#111"/>
<polygon points="410.9,196.4 406.3,194.2 406.3,198.6" fill="#111"/>
<line x1="416" y1="196.3" x2="513" y2="196.3" stroke="#111" stroke-width="1.5" />
<polygon points="413.5,196.3 418.2,194.1 418.2,198.5" fill="#111"/>
<polygon points="517.2,196.3 511.6,193.9 511.6,198.7" fill="#111"/>
<line x1="405.4" y1="189.6" x2="417.3" y2="189.6" stroke="#222" stroke-width="0.9" />
<rect x="410" y="188.8" width="2" height="1.6" fill="#222"/>
<line x1="405.4" y1="201.9" x2="417.3" y2="201.9" stroke="#aaa" stroke-width="0.9" stroke-dasharray="1,0.6"/>
<text x="296.4" y="194.2" font-size="5.0" text-anchor="middle" font-weight="bold" fill="#111" stroke="#111" stroke-width="0.17" >G5.5 mM</text>
<text x="361" y="193" font-size="5.0" text-anchor="middle" font-weight="bold" fill="#111" stroke="#111" stroke-width="0.17" >G5.5 mM + Thapsi 1µM</text>
<text x="361.9" y="202.1" font-size="5.0" text-anchor="middle" font-weight="bold" fill="#111" stroke="#111" stroke-width="0.17" >rot + Thapsi 1µM</text>
<rect x="426.5" y="188.4" width="56.5" height="5.2" fill="#e6e6e6"/>
<rect x="426.5" y="197.8" width="60" height="5.2" fill="#e6e6e6"/>
<text x="454.9" y="193" font-size="4.95" text-anchor="middle" font-weight="bold" fill="#111" stroke="#111" stroke-width="0.17" >G16.7 mM + Thapsi/1µM</text>
<text x="456.4" y="202.5" font-size="5.05" text-anchor="middle" font-weight="bold" fill="#111" stroke="#111" stroke-width="0.17" >Rot 100µM + Thapsi 1µM</text>
<polyline points="280.3,285 280.95,285.38 281.6,284.24 282.25,285.34 282.9,285.57 283.55,284.94 284.2,285.5 284.8,285.1 285.4,285.71 286,284.79 286.6,285.3 287.2,285 287.82,284.86 288.44,283.99 289.06,284.59 289.68,282.31 290.3,283.5 290.92,283.62 291.54,281.48 292.16,283.67 292.78,282.21 293.4,282.84 294.02,281.98 294.64,283.1 295.26,282.56 295.88,281.47 296.5,282.7 297.11,282.4 297.72,282.82 298.33,282.91 298.94,283.69 299.55,282.77 300.16,282.78 300.77,282.66 301.38,283.33 301.99,283.36 302.6,283 303.22,283.27 303.84,282.9 304.46,283.03 305.08,282.35 305.7,282.47 306.32,281.69 306.94,282.33 307.56,282.21 308.18,282.29 308.8,282.4 309.46,282.65 310.11,281.86 310.77,281.82 311.43,281.48 312.09,281.25 312.74,281 313.4,280.8 314.03,280.13 314.67,280.25 315.3,279.57 315.93,279.94 316.57,278.79 317.2,278.8 317.82,278.4 318.44,277 319.06,277.29 319.68,276.96 320.3,276.5 320.95,278.53 321.6,277.06 322.25,277.76 322.9,279.31 323.55,279.18 324.2,278.4 324.95,279.44 325.7,281.9 326.36,281.82 327.01,280.06 327.67,283.68 328.33,282.06 328.99,281.81 329.64,281.19 330.3,281.5 330.92,282.06 331.54,282.08 332.16,281.73 332.78,281.66 333.4,281.86 334.02,283.9 334.64,281.97 335.26,281.41 335.88,281.33 336.5,283 337.16,281.57 337.81,282.32 338.47,283.88 339.13,281.9 339.79,280.66 340.44,282.41 341.1,281.9 341.76,282.19 342.41,280.4 343.07,281.92 343.73,280.78 344.39,281 345.04,281.31 345.7,280.8 346.33,279.86 346.97,279.93 347.6,280.1 348.23,277.58 348.87,277.22 349.5,278.1 350.15,279.7 350.8,278.87 351.45,278.52 352.1,278.36 352.75,278.91 353.4,278.8 354.1,278.12 354.8,276.88 355.5,278.17 356.2,277.4 356.86,277.13 357.51,277.65 358.17,276.39 358.83,275.66 359.49,276.39 360.14,274.34 360.8,274.3 361.46,273.99 362.11,274.23 362.77,274.3 363.43,275.38 364.09,274.59 364.74,275.08 365.4,275.4 366.06,276.63 366.71,275.6 367.37,276 368.03,277.02 368.69,276.85 369.34,279.05 370,277.4 370.66,276.86 371.31,277.25 371.97,277.16 372.63,277.68 373.29,276.62 373.94,276.22 374.6,275.8 375.25,276.22 375.9,278.6 376.55,277.5 377.2,278.62 377.85,279.17 378.5,278.5 379.25,275.31 380,272.3 380.62,271.87 381.24,271.67 381.86,272.07 382.48,271.31 383.1,271.5 383.73,271.52 384.37,272.9 385,273.28 385.63,273.58 386.27,273.61 386.9,274.3 387.56,274.25 388.21,275.15 388.87,275.07 389.53,275.4 390.19,275.46 390.84,276.37 391.5,276.9 392.17,276.18 392.84,276.41 393.51,277.16 394.19,275.64 394.86,276.85 395.53,276.68 396.2,276.5 396.86,275.09 397.51,276.63 398.17,276.01 398.83,276.1 399.49,276.34 400.14,275.76 400.8,276.5 401.46,276.49 402.11,276.24 402.77,277.17 403.43,275.81 404.09,274.77 404.74,274.64 405.4,274.6 406.06,273.52 406.71,274.7 407.37,274.96 408.03,275.67 408.69,275.94 409.34,275.17 410,275.8 410.66,275.75 411.31,274.87 411.97,275.15 412.63,273.13 413.29,275.65 413.94,274.74 414.6,274.3 415.26,273.34 415.91,273.75 416.57,272.76 417.23,274.15 417.89,274.33 418.54,273.49 419.2,273.8 419.8,273.04 420.4,273.68 421,274.44 421.6,274.17 422.2,274.87 422.8,274.06 423.4,274.68 424,275.49 424.6,274.3 425.4,269.45 426.2,264.6 426.82,263.61 427.45,264.36 428.07,262.29 428.7,262.1 429.3,262.02 429.9,262.45 430.5,263.06 431.1,262.16 431.7,262.74 432.3,262.83 432.9,263.82 433.5,262.7 434.13,263 434.77,262.17 435.4,263.14 436.03,262.15 436.67,262.63 437.3,261.95 437.93,262.53 438.57,262.56 439.2,262.1 439.84,261.75 440.49,261.41 441.13,261.09 441.78,259.73 442.42,260.58 443.07,259.18 443.71,258.45 444.36,258.08 445,259.2 445.64,258.64 446.29,258.11 446.93,257.81 447.58,257.72 448.22,257.49 448.87,256.76 449.51,256.33 450.16,255.43 450.8,255.4 451.4,254.7 452,254.85 452.6,254.14 453.2,253.16 453.8,253.57 454.4,253.36 455,253.34 455.6,252.5 456.23,252.03 456.87,252.28 457.5,251.12 458.13,250.85 458.77,251.07 459.4,250.6 460.05,250.15 460.7,249.74 461.35,250.55 462,249.11 462.65,248.93 463.3,247.7 464.02,245.31 464.75,246.91 465.48,245.21 466.2,243.8 466.76,242.32 467.32,243.45 467.88,238.68 468.44,235.7 469,237.1 469.58,234.08 470.16,235.69 470.74,235.67 471.32,234.31 471.9,234.2 472.48,231.43 473.06,231.15 473.64,232.38 474.22,230.66 474.8,231.3 475.38,230.32 475.96,231.19 476.54,229.42 477.12,228.63 477.7,228.5 478.28,229.65 478.86,228.04 479.44,226.92 480.02,226.48 480.6,226.5 481.18,227.43 481.76,227.84 482.34,229.5 482.92,228.32 483.5,228.8 484.06,228.47 484.62,229.28 485.18,224.66 485.74,225.79 486.3,225.6 486.88,227.72 487.46,224.44 488.04,225.04 488.62,224.94 489.2,227.5 489.78,228.46 490.36,226.56 490.94,229 491.52,229.7 492.1,230.4 492.73,229.05 493.37,228.25 494,227.5 494.5,228.04 495,234.2 495.63,229.56 496.27,227.66 496.9,224.6 497.53,226.04 498.17,223.32 498.8,222.7 499.3,229.42 499.8,235.2 500.3,227.25 500.8,218.8 501.43,222.24 502.07,219.72 502.7,223.7 503.24,225.42 503.79,222.99 504.33,223.53 504.87,224.98 505.41,224.45 505.96,224.17 506.5,222.7 507,221.75 507.5,223.71 508,224.91 508.5,225.6 509.13,224.01 509.77,223.13 510.4,221.7 511.03,223.63 511.67,223.24 512.3,226.5 512.93,225.86 513.57,224.35 514.2,223.7 514.7,224.5 515.2,225.85 515.7,228.41 516.2,227.5 516.76,227.62 517.32,224.68 517.88,226.55 518.44,226.2 519,225.6" fill="none" stroke="#333" stroke-width="0.95" stroke-linejoin="round" stroke-linecap="round" />
<polyline points="280.5,286.5 281.2,285.14 281.9,285.53 282.6,285 283.4,285.75 284.2,287.3 284.81,286.88 285.42,287.6 286.03,287.36 286.64,287.42 287.25,286.91 287.86,286.06 288.47,287.99 289.08,286.57 289.69,286.29 290.3,287.3 290.92,287.46 291.54,287.87 292.16,288.16 292.78,287.01 293.4,288.1 294.04,287.88 294.68,287.88 295.32,288.83 295.97,287.79 296.61,287.82 297.25,287.47 297.89,288.07 298.53,287.62 299.18,287.72 299.82,288.25 300.46,288.86 301.1,287.6 301.74,288.02 302.38,287.36 303.03,288.56 303.67,287.6 304.31,287.22 304.95,287.66 305.59,287.8 306.23,287.1 306.88,288.39 307.52,287.15 308.16,287.2 308.8,287.3 309.44,286.94 310.08,286.57 310.73,286.78 311.37,287.08 312.01,287.58 312.65,287.16 313.29,288.19 313.93,287 314.57,286.05 315.22,286.7 315.86,286.67 316.5,287 317.14,286.99 317.78,285.97 318.43,286.56 319.07,286.7 319.71,286.45 320.35,287.19 320.99,285.56 321.63,286.88 322.27,286.8 322.92,286.32 323.56,286.42 324.2,286.5 324.83,286.87 325.47,286.32 326.1,286.13 326.73,286.52 327.37,287.43 328,286.6 328.63,285.55 329.27,287.6 329.9,287.03 330.53,286.22 331.17,286.36 331.8,286.5 332.44,286.64 333.08,286.01 333.73,285.09 334.37,286.4 335.01,285.83 335.65,286.52 336.29,286.32 336.93,285.74 337.57,285.82 338.22,286.34 338.86,285.77 339.5,285.8 340.14,285.31 340.78,285.83 341.43,285.87 342.07,285.79 342.71,285.4 343.35,285.92 343.99,285.27 344.63,285.28 345.27,285.3 345.92,283.98 346.56,285.37 347.2,285.5 347.82,287.05 348.44,285.67 349.05,285.55 349.67,284.9 350.29,285.13 350.91,284.52 351.52,285.56 352.14,285.64 352.76,285.62 353.38,285.06 353.99,285.43 354.61,285.65 355.23,285.89 355.85,285.61 356.46,285.68 357.08,285.86 357.7,285.7 358.34,285.78 358.98,286.2 359.62,286.19 360.27,285.68 360.91,286.35 361.55,286.53 362.19,286.2 362.83,285.84 363.47,285.81 364.12,286.6 364.76,286.13 365.4,286.3 366.04,286 366.68,287.33 367.32,287.82 367.97,286.31 368.61,286.96 369.25,286.5 369.89,286.04 370.53,286.61 371.18,286.13 371.82,286.81 372.46,286.22 373.1,286.6 373.74,286.21 374.38,287.65 375.03,286.83 375.67,286.62 376.31,286.74 376.95,286.59 377.59,286.22 378.23,287.07 378.88,286.2 379.52,286.71 380.16,287.26 380.8,286.9 381.44,286.54 382.08,285.79 382.73,286.54 383.37,286.92 384.01,286.51 384.65,286.9 385.29,287 385.93,285.3 386.57,286.45 387.22,286.79 387.86,286.77 388.5,286.6 389.14,286.92 389.78,285.49 390.43,286.8 391.07,286.59 391.71,285.64 392.35,286.51 392.99,287.52 393.63,286.49 394.27,286.07 394.92,286.88 395.56,286.11 396.2,286.2 396.83,286.59 397.47,285.7 398.1,286.72 398.73,286.01 399.37,285.72 400,285.5 400.63,285.54 401.27,286.51 401.9,285.45 402.53,287.25 403.17,285.94 403.8,285.7 404.44,285.51 405.08,285.38 405.73,285.89 406.37,285.64 407.01,285.7 407.65,285.93 408.29,285.28 408.93,285.29 409.57,286.11 410.22,284.6 410.86,285.86 411.5,285.7 412.14,285.25 412.78,285.92 413.43,285.73 414.07,285.31 414.71,286.28 415.35,286.9 415.99,285.59 416.63,285.87 417.27,285.81 417.92,286.39 418.56,285.87 419.2,285.7 419.82,285.31 420.44,285.57 421.06,286 421.68,285.47 422.3,284.52 422.92,284.97 423.54,286.39 424.16,285.12 424.78,284.81 425.4,285.1 426.15,284.12 426.9,283.1 427.7,268.5 428.7,266.4 429.31,265.98 429.92,266.23 430.53,267.22 431.14,265.73 431.75,266.11 432.35,266.06 432.96,266.3 433.57,265.9 434.18,265.24 434.79,265.68 435.4,265.4 436.04,265.06 436.69,264.99 437.33,265.01 437.98,264.71 438.62,265.28 439.27,264.15 439.91,264.25 440.56,264.4 441.2,264 441.83,264.55 442.47,263.13 443.1,262.1 443.83,263.02 444.55,261.88 445.27,260.47 446,261.2 446.7,260.87 447.4,260.48 448.1,260.59 448.8,260.2 449.47,259.33 450.13,258.39 450.8,258.3 451.52,257.58 452.25,256.9 452.98,255.97 453.7,255.4 454.4,255.08 455.1,253.81 455.8,254.53 456.5,254.4 457.15,254.88 457.8,255.19 458.45,253.56 459.1,253.51 459.75,254.01 460.4,253.5 461.03,253.78 461.67,253.63 462.3,255.48 462.93,254.46 463.57,255.58 464.2,254.4 464.87,255.12 465.53,255.04 466.2,255.4 467.1,247.7 468.1,241.9 468.85,239.72 469.6,239 470.37,239.5 471.13,239.87 471.9,240 472.55,240.17 473.2,239.11 473.85,240.18 474.5,240.55 475.15,239.61 475.8,239.6 476.43,239.06 477.07,240.43 477.7,240.44 478.33,238.67 478.97,237.98 479.6,238.5 480.24,238.03 480.89,237.57 481.53,238.52 482.18,238.1 482.82,237.56 483.47,238.43 484.11,239.23 484.76,237.3 485.4,238.1 486.04,237.52 486.69,239.41 487.33,238.32 487.98,237.04 488.62,236.56 489.27,239.26 489.91,238.13 490.56,238.19 491.2,237.7 491.83,238.26 492.47,237.94 493.1,237.72 493.73,238.28 494.37,237.85 495,238.02 495.63,237.9 496.27,237.88 496.9,238.1 497.54,237.68 498.19,237.74 498.83,237.92 499.48,238.14 500.12,238.67 500.77,236.6 501.41,238.01 502.06,237.6 502.7,237.7 503.34,238.05 503.99,237.35 504.63,237.33 505.28,236.99 505.92,237.74 506.57,236.98 507.21,237.43 507.86,237.42 508.5,237.1 509.13,237.41 509.77,236.64 510.4,236.46 511.03,236.66 511.67,237.4 512.3,236.96 512.93,236.64 513.57,236.26 514.2,236.5 514.86,236.71 515.53,237.91 516.19,237.16 516.85,237.72 517.51,236.38 518.17,237.06 518.84,237.25 519.5,237.1" fill="none" stroke="#000" stroke-width="2.3" stroke-linejoin="round" stroke-linecap="round" />
<text transform="translate(0.1,347) scale(0.88,1)" font-size="15" font-weight="bold" fill="#111" stroke="#111" stroke-width="0.51">E</text>
<rect x="62.4" y="344.1" width="130.9" height="20.2" fill="#e1e1e1" stroke="#111" stroke-width="1.3"/>
<rect x="62.4" y="364.3" width="130.9" height="12.6" fill="#fff" stroke="#111" stroke-width="1.3"/>
<text x="70" y="356.1" font-size="6.5" text-anchor="start" font-weight="bold" fill="#111" stroke="#111" stroke-width="0.22" >G5.5 mM+ Trolox 1mM</text>
<text x="70" y="372.7" font-size="6.5" text-anchor="start" font-weight="bold" fill="#111" stroke="#111" stroke-width="0.22" >G5.5 mM</text>
<line x1="161.6" y1="352.8" x2="186.5" y2="352.8" stroke="#111" stroke-width="1.3" />
<rect x="171.8" y="350.4" width="5.2" height="4.8" fill="#000"/>
<line x1="161.6" y1="370.3" x2="186.5" y2="370.3" stroke="#111" stroke-width="1.1" stroke-dasharray="0.9,0.7"/>
<polygon points="175.5,366.9 177.3,370.3 175.5,373.7 173.7,370.3" fill="#000"/>
<text transform="translate(17,448.7) rotate(-90)" font-size="8.7" text-anchor="middle" font-weight="bold" fill="#111" stroke="#111" stroke-width="0.3">Fluorescence ratio 340/380</text>
<text transform="translate(28,447.5) rotate(-90)" font-size="8.7" text-anchor="middle" font-weight="bold" fill="#111" stroke="#111" stroke-width="0.3">(compared to basal)</text>
<line x1="62" y1="380.3" x2="62" y2="515.2" stroke="#858585" stroke-width="1.8" />
<line x1="60.4" y1="380.6" x2="62" y2="380.6" stroke="#858585" stroke-width="1.0" />
<text x="56.3" y="383.55" font-size="6.6" text-anchor="end" font-weight="bold" fill="#111" stroke="#111" stroke-width="0.22" >2.50</text>
<text x="56.3" y="410.3" font-size="6.6" text-anchor="end" font-weight="bold" fill="#111" stroke="#111" stroke-width="0.22" >2.10</text>
<text x="56.3" y="437.05" font-size="6.6" text-anchor="end" font-weight="bold" fill="#111" stroke="#111" stroke-width="0.22" >1.70</text>
<text x="56.3" y="463.8" font-size="6.6" text-anchor="end" font-weight="bold" fill="#111" stroke="#111" stroke-width="0.22" >1.30</text>
<text x="56.3" y="490.55" font-size="6.6" text-anchor="end" font-weight="bold" fill="#111" stroke="#111" stroke-width="0.22" >0.90</text>
<text x="56.3" y="517.3" font-size="6.6" text-anchor="end" font-weight="bold" fill="#111" stroke="#111" stroke-width="0.22" >0.50</text>
<line x1="62" y1="515.2" x2="193.4" y2="515.2" stroke="#444" stroke-width="1.4" />
<line x1="61.4" y1="515.2" x2="61.4" y2="517.4" stroke="#444" stroke-width="1.4" />
<line x1="83.33" y1="515.2" x2="83.33" y2="517.4" stroke="#444" stroke-width="1.4" />
<line x1="105.26" y1="515.2" x2="105.26" y2="517.4" stroke="#444" stroke-width="1.4" />
<line x1="127.19" y1="515.2" x2="127.19" y2="517.4" stroke="#444" stroke-width="1.4" />
<line x1="149.12" y1="515.2" x2="149.12" y2="517.4" stroke="#444" stroke-width="1.4" />
<line x1="171.05" y1="515.2" x2="171.05" y2="517.4" stroke="#444" stroke-width="1.4" />
<line x1="192.98" y1="515.2" x2="192.98" y2="517.4" stroke="#444" stroke-width="1.4" />
<text x="61.4" y="525.6" font-size="7.0" text-anchor="middle" font-weight="bold" fill="#111" stroke="#111" stroke-width="0.24" >0</text>
<text x="83.33" y="525.6" font-size="7.0" text-anchor="middle" font-weight="bold" fill="#111" stroke="#111" stroke-width="0.24" >5</text>
<text x="105.26" y="525.6" font-size="7.0" text-anchor="middle" font-weight="bold" fill="#111" stroke="#111" stroke-width="0.24" >10</text>
<text x="127.19" y="525.6" font-size="7.0" text-anchor="middle" font-weight="bold" fill="#111" stroke="#111" stroke-width="0.24" >15</text>
<text x="149.12" y="525.6" font-size="7.0" text-anchor="middle" font-weight="bold" fill="#111" stroke="#111" stroke-width="0.24" >20</text>
<text x="171.05" y="525.6" font-size="7.0" text-anchor="middle" font-weight="bold" fill="#111" stroke="#111" stroke-width="0.24" >25</text>
<text x="192.98" y="525.6" font-size="7.0" text-anchor="middle" font-weight="bold" fill="#111" stroke="#111" stroke-width="0.24" >30</text>
<text x="127.4" y="509.3" font-size="8.75" text-anchor="middle" font-weight="bold" fill="#111" stroke="#111" stroke-width="0.3" >KCl 30 mM</text>
<line x1="126" y1="489" x2="126" y2="500" stroke="#000" stroke-width="2.0" />
<polygon points="126,485 123,490.4 129,490.4" fill="#000"/>
<text x="127.8" y="536" font-size="8.8" text-anchor="middle" font-weight="bold" fill="#111" stroke="#111" stroke-width="0.3" >time (s)</text>
<polyline points="62.6,481 63.06,480.45 63.52,480.24 63.97,480.15 64.43,481.98 64.89,481.26 65.35,480.87 65.81,480.35 66.26,480.14 66.72,479.99 67.18,480.76 67.64,481.36 68.09,481.57 68.55,480.79 69.01,481.31 69.47,481.22 69.93,480.16 70.38,479.99 70.84,480.2 71.3,480.81 71.76,480.79 72.22,481.6 72.67,480.2 73.13,480.94 73.59,480.59 74.05,480.86 74.51,480.48 74.96,480.43 75.42,481.47 75.88,481.67 76.34,480.53 76.79,480.43 77.25,479.9 77.71,480.42 78.17,480.65 78.63,480.05 79.08,480.73 79.54,479.83 80,480.8 80.45,481.63 80.9,480.09 81.35,479.86 81.8,478.95 82.25,481.9 82.7,480.64 83.15,480.52 83.6,480.08 84.05,480.5 84.5,481.14 84.95,479.98 85.4,481.63 85.85,481.48 86.3,480.21 86.75,479.77 87.2,480.87 87.65,481.18 88.1,481.33 88.55,480.08 89,481.03 89.45,479.95 89.9,480.13 90.35,481.33 90.8,479.97 91.25,479.89 91.7,480.58 92.15,481.94 92.6,481.76 93.05,481.8 93.5,480.4 93.95,481.05 94.4,480.7 94.85,481.67 95.3,481.22 95.75,481.54 96.2,482.5 96.65,481.15 97.1,480.4 97.55,480.76 98,481 98.5,480.73 99,480.09 99.5,480.23 100,479.14 100.5,478.81 101,479.59 101.5,479.84 102,478.5 102.5,478.24 103,478.41 103.5,479.33 104,478.74 104.5,479.45 105,479.09 105.5,480.93 106,480 106.5,480.27 107,479.68 107.5,480.05 108,478.31 108.5,477.61 109,478.86 109.5,479.78 110,477.5 110.5,478.06 111,477.08 111.5,478.97 112,478.23 112.5,479.38 113,479.2 113.5,478.84 114,479.5 114.5,478.84 115,478.1 115.5,479.39 116,477.55 116.5,477.07 117,476.79 117.5,476.35 118,477 118.5,476.82 119,477.03 119.5,478.03 120,477.88 120.5,478.93 121,477.39 121.5,478.76 122,478.5 122.5,479.09 123,478.35 123.5,478.81 124,478.54 124.5,477.95 125,477.35 125.5,477.88 126,477 126.5,476.68 127,477.98 127.5,478.13 128,478.12 128.5,476.75 129,477.91 129.5,478.35 130,477.5 130.47,478.2 130.93,477.03 131.4,476.46 131.87,477.16 132.33,478.23 132.8,477.98 133.27,477.42 133.73,476.98 134.2,477.2" fill="none" stroke="#000" stroke-width="2.0" stroke-linejoin="round" stroke-linecap="round" />
<polyline points="62.6,483 63.06,482.93 63.52,482.29 63.97,482.03 64.43,482.78 64.89,482.37 65.35,483.93 65.81,481.47 66.26,483.89 66.72,483.6 67.18,484.27 67.64,482.51 68.09,483.84 68.55,483.89 69.01,481.63 69.47,482.19 69.93,484.11 70.38,483.79 70.84,482.1 71.3,482.5 71.76,482.77 72.22,482.38 72.67,483.12 73.13,482.36 73.59,482.7 74.05,483.35 74.51,482.25 74.96,484.4 75.42,484.47 75.88,482.63 76.34,482.24 76.79,483.51 77.25,484.38 77.71,483.94 78.17,481.77 78.63,482.67 79.08,483.08 79.54,482.37 80,483.2 80.45,482.4 80.9,482.24 81.35,483.8 81.8,483.6 82.25,483.65 82.7,482.63 83.15,482.97 83.6,483.88 84.05,484.11 84.5,484.03 84.95,481.71 85.4,481.09 85.85,483.49 86.3,483.09 86.75,484.05 87.2,483.58 87.65,483.52 88.1,482.88 88.55,482.44 89,483.64 89.45,482.32 89.9,482.35 90.35,482.61 90.8,482.49 91.25,483.26 91.7,482.24 92.15,483.25 92.6,482.19 93.05,483.22 93.5,482.92 93.95,483.1 94.4,483.63 94.85,483.18 95.3,482.16 95.75,483.17 96.2,483 96.65,482.12 97.1,482.76 97.55,482.47 98,483 98.5,483.71 99,483.28 99.5,484.11 100,482.49 100.5,483.31 101,484.59 101.5,484.09 102,485 102.5,483.77 103,484.68 103.5,485.22 104,483.21 104.5,483.21 105,482.88 105.5,481.65 106,483 106.5,483.79 107,483.67 107.5,484.21 108,483.76 108.5,483.96 109,484.85 109.5,485.02 110,485.5 110.5,485.08 111,485.5 111.5,483.66 112,484.95 112.5,484.43 113,484 113.5,484.67 114,482.5 114.5,482.58 115,483.13 115.5,484.03 116,482.66 116.5,483.68 117,483.91 117.5,483.21 118,484.5 118.5,485.21 119,483.03 119.5,483.05 120,483.21 120.5,483.39 121,481.67 121.5,482.43 122,481.5 122.5,482.36 123,482.42 123.5,481.07 124,481.57 124.5,481.89 125,480.64 125.5,482.95 126,482.5 126.5,482.8 127,481.92 127.5,481.39 128,481.89 128.5,481.46 129,480.85 129.5,480.24 130,479.5 130.47,478.48 130.93,480.12 131.4,480.15 131.87,479.71 132.33,479.16 132.8,478.86 133.27,479.2 133.73,477.24 134.2,479" fill="none" stroke="#000" stroke-width="2.0" stroke-linejoin="round" stroke-linecap="round" />
<line x1="135.1" y1="478" x2="135.1" y2="396" stroke="#999" stroke-width="1.0" />
<line x1="137.7" y1="398" x2="137.7" y2="420" stroke="#999" stroke-width="1.0" />
<line x1="135.1" y1="478" x2="135.1" y2="396" stroke="#111" stroke-width="1.6" stroke-dasharray="1.4,1.6"/>
<line x1="137.7" y1="398" x2="137.7" y2="420" stroke="#111" stroke-width="1.6" stroke-dasharray="1.4,1.6"/>
<line x1="139.7" y1="421" x2="139.7" y2="445" stroke="#999" stroke-width="1.0" />
<ellipse cx="136.3" cy="395.8" rx="1.9" ry="1.8" fill="#000"/>
<ellipse cx="136.9" cy="392.8" rx="0.9" ry="1.1" fill="#000"/>
<ellipse cx="138.6" cy="413.6" rx="0.9" ry="1.1" fill="#000"/>
<polyline points="136.8,418.6 138.5,421.5 140.5,419.8 142.5,421.3 144.5,420.6 146,421.6" fill="none" stroke="#000" stroke-width="2.6" stroke-linejoin="round" stroke-linecap="round" />
<polyline points="144.6,432.7 146.5,433.2 148.1,433.5 150,434 151.5,434.2 153,433.5" fill="none" stroke="#000" stroke-width="2.6" stroke-linejoin="round" stroke-linecap="round" />
<polyline points="154.2,437.7 155,439.5 153.8,441.5 155,443.5" fill="none" stroke="#000" stroke-width="2.6" stroke-linejoin="round" stroke-linecap="round" />
<polyline points="156.5,437.3 158.5,438.8 160.8,439.2 162.3,441.9 163.1,445" fill="none" stroke="#000" stroke-width="2.6" stroke-linejoin="round" stroke-linecap="round" />
<polyline points="160.2,443.6 160.2,447.6" fill="none" stroke="#000" stroke-width="2.6" stroke-linejoin="round" stroke-linecap="round" />
<polyline points="168.5,446.9 169.6,449.6 170.8,448 172.3,449.6 174.2,446.9" fill="none" stroke="#000" stroke-width="2.6" stroke-linejoin="round" stroke-linecap="round" />
<polyline points="165.8,449.6 166.4,452" fill="none" stroke="#000" stroke-width="2.6" stroke-linejoin="round" stroke-linecap="round" />
<ellipse cx="152.7" cy="428.5" rx="1.2" ry="1.4" fill="#000"/>
<line x1="145.2" y1="424.2" x2="145.6" y2="428.2" stroke="#aaa" stroke-width="0.8" />
<polyline points="140,444.8 140.5,445.12 141,445.7 141.5,446 142,447.05 142.5,446.7 143,447.14 143.5,447.5 144.07,448.14 144.63,448 145.2,449 145.7,448.57 146.2,448.31 146.7,448.12 147.2,447.2 147.77,446.4 148.35,446.59 148.93,446.1 149.5,446.6 150,447.43 150.5,447.58 151,447.6 151.5,449.32 152,452.5 152.63,454.64 153.27,455.98 153.9,456.6 154.43,457.1 154.95,457.28 155.47,456.8 156,457.6 156.6,454.92 157.2,453.8 157.85,456.55 158.5,459.2 159.03,458.85 159.55,459.4 160.07,459.84 160.6,460.6 161.1,459.42 161.6,459.69 162.1,459.23 162.6,458.9 163.12,459.82 163.65,459.68 164.17,460.25 164.7,460.4 165.2,461.25 165.7,462.36 166.2,462.88 166.7,463.8 167.22,463.13 167.73,463.96 168.25,463.64 168.77,463.08 169.28,462.55 169.8,461.9 170.3,461.77 170.8,461.8 171.3,462.06 171.8,461.88 172.3,463.16 172.8,462.9 173.37,463.94 173.93,465.85 174.5,466.5" fill="none" stroke="#000" stroke-width="2.5" stroke-linejoin="round" stroke-linecap="round" />
<text x="126.6" y="158.7" font-size="8.8" text-anchor="middle" font-weight="bold" fill="#111" stroke="#111" stroke-width="0.3" >time (s)</text>
<text x="397.4" y="158.5" font-size="8.8" text-anchor="middle" font-weight="bold" fill="#111" stroke="#111" stroke-width="0.3" >time (s)</text>
<text x="133.6" y="311.3" font-size="8.8" text-anchor="middle" font-weight="bold" fill="#111" stroke="#111" stroke-width="0.3" >time (s)</text>
<text x="403.2" y="324" font-size="8.8" text-anchor="middle" font-weight="bold" fill="#111" stroke="#111" stroke-width="0.3" >time (s)</text>
</svg>
</body></html>
